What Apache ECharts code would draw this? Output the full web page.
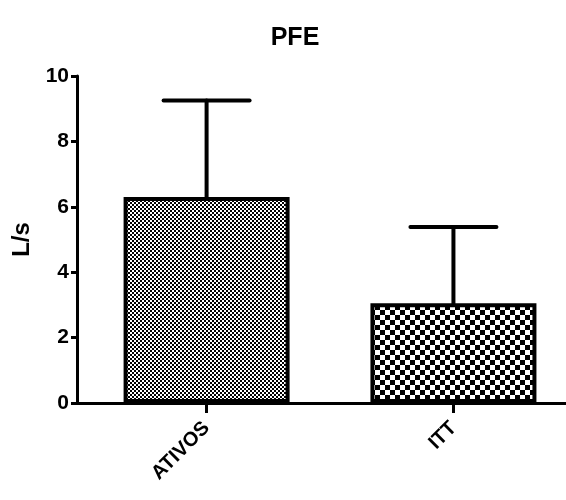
<!DOCTYPE html>
<html><head><meta charset="utf-8">
<script src="https://cdn.jsdelivr.net/npm/echarts@6/dist/echarts.min.js"></script>
<style>html,body{margin:0;padding:0;background:#fff;}#c{width:566px;height:500px;}</style>
</head><body><div id="c"></div>
<script>
const categories = ['ATIVOS', 'ITT'];
const means = [6.3, 3.05];
const upperErr = [9.25, 5.38];
const yTicks = [0, 2, 4, 6, 8, 10];

function checker(sq) {
  const c = document.createElement('canvas');
  c.width = sq * 2; c.height = sq * 2;
  const g = c.getContext('2d');
  g.fillStyle = '#fff'; g.fillRect(0, 0, sq * 2, sq * 2);
  g.fillStyle = '#000';
  g.fillRect(0, 0, sq, sq); g.fillRect(sq, sq, sq, sq);
  return c;
}
const patterns = [checker(2), checker(5)];

const chart = echarts.init(document.getElementById('c'), null, {renderer: 'canvas'});
const font = 'Arial, "Liberation Sans", sans-serif';
chart.setOption({
  animation: false,
  title: {text: 'PFE', left: 290, top: 21, textAlign: 'center',
    textStyle: {fontFamily: font, fontWeight: 'bold', fontSize: 25, color: '#000'}},
  grid: {left: 77, right: 0, top: 76, bottom: 97, containLabel: false},
  xAxis: {
    type: 'value', min: -0.525, max: 1.456,
    splitLine: {show: false},
    axisLine: {show: true, onZero: false, lineStyle: {color: '#000', width: 3}},
    axisTick: {show: true, customValues: [0, 1], length: 10, lineStyle: {color: '#000', width: 3}},
    axisLabel: {show: true, customValues: [0, 1], rotate: 45, margin: 22,
      formatter: v => categories[Math.round(v)] || '',
      fontFamily: font, fontWeight: 'bold', fontSize: 20, color: '#000'}
  },
  yAxis: {
    type: 'value', min: 0, max: 10, interval: 2,
    name: 'L/s', nameLocation: 'middle', nameRotate: 90, nameGap: 42,
    nameTextStyle: {fontFamily: font, fontWeight: 'bold', fontSize: 24, color: '#000'},
    splitLine: {show: false},
    axisLine: {show: true, onZero: false, lineStyle: {color: '#000', width: 3}},
    axisTick: {show: true, length: 6, lineStyle: {color: '#000', width: 3}},
    axisLabel: {fontFamily: font, fontWeight: 'bold', fontSize: 21, color: '#000', margin: 8,
      formatter: v => yTicks.includes(v) ? String(v) : ''}
  },
  series: [
    {
      type: 'custom',
      z: 1,
      data: categories.map((c, i) => [i, means[i], upperErr[i]]),
      renderItem: (params, api) => {
        const i = api.value(0);
        const base = api.coord([i, api.value(1)]);
        const top = api.coord([i, api.value(2)]);
        const half = 43;
        const st = {stroke: '#000', lineWidth: 4, lineCap: 'round'};
        return {type: 'group', children: [
          {type: 'line', shape: {x1: base[0], y1: base[1], x2: top[0], y2: top[1]}, style: st},
          {type: 'line', shape: {x1: top[0] - half, y1: top[1], x2: top[0] + half, y2: top[1]}, style: st}
        ]};
      }
    },
    {
      type: 'bar',
      z: 2,
      barWidth: 166,
      data: categories.map((c, i) => ({
        value: [i, means[i]],
        itemStyle: {color: {image: patterns[i], repeat: 'repeat'}, borderColor: '#000', borderWidth: 4}
      }))
    }
  ]
});
</script></body></html>
